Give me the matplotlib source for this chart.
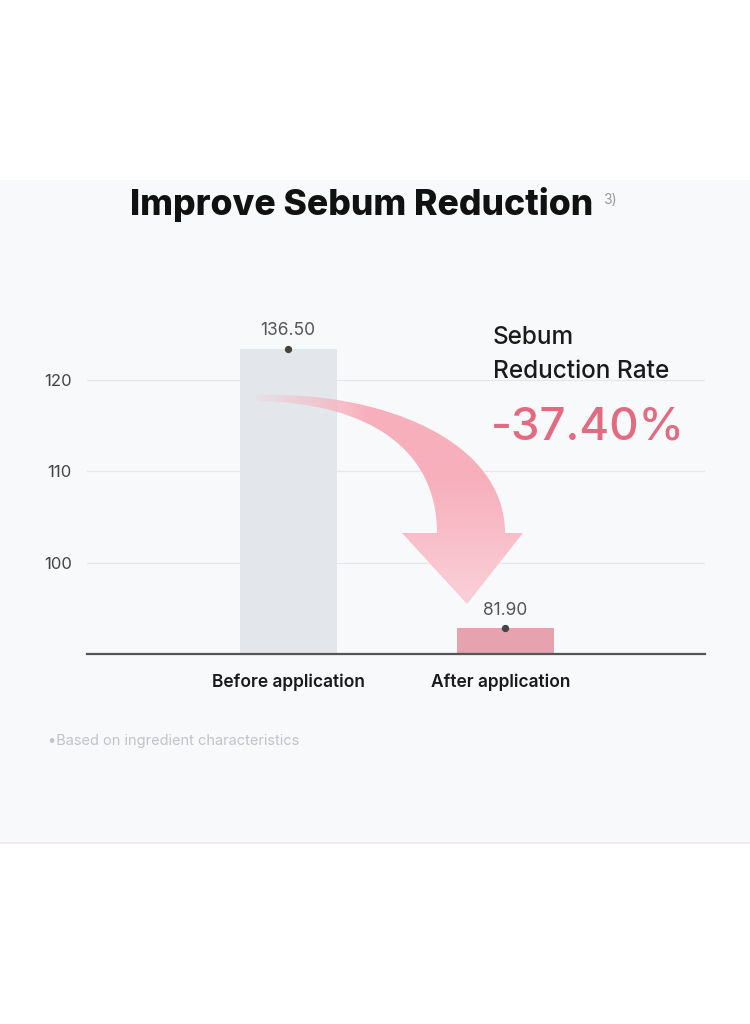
import numpy as np
import matplotlib
matplotlib.use("Agg")
import matplotlib.pyplot as plt
from matplotlib.path import Path
from matplotlib.patches import PathPatch, Rectangle

plt.rcParams['font.family'] = ['Inter', 'DejaVu Sans']

# ---- data ----
categories = ["Before application", "After application"]
bar_heights = [123.4, 92.8]          # drawn heights on the (truncated) axis
value_labels = ["136.50", "81.90"]   # printed values
yticks = [100, 110, 120]
reduction_label = "-37.40%"
title = "Improve Sebum Reduction"
footnote = "•Based on ingredient characteristics"

bar_colors = ["#e3e6ea", "#e6a2af"]

W, H = 750, 1024
fig = plt.figure(figsize=(W / 100, H / 100), dpi=100)
fig.patch.set_facecolor("white")

# background panel
bg = fig.add_axes([0, 0, 1, 1], zorder=0)
bg.set_xlim(0, W); bg.set_ylim(H, 0); bg.axis("off")
bg.add_patch(Rectangle((0, 180), W, 663, facecolor="#f8f9fb", edgecolor="none"))
bg.plot([0, W], [843, 843], color="#efe6e9", lw=1.2)

# main axes
L, R, B, T = 87, 705, 654, 334
ax = fig.add_axes([L / W, 1 - B / H, (R - L) / W, (B - T) / H], zorder=1)
ax.set_facecolor("none")
x = np.arange(len(categories))
ax.set_xlim(-0.926, 1.92)
ax.set_ylim(90, 125)
for t in yticks:
    ax.axhline(t, color="#e6e7eb", lw=0.9, zorder=0)
ax.bar(x, [h - 90 for h in bar_heights], bottom=90, width=0.447,
       color=bar_colors, zorder=2)
ax.scatter(x, bar_heights, s=18, color="#444444", zorder=3)
for xi, h, lab in zip(x, bar_heights, value_labels):
    ax.annotate(lab, (xi, h), xytext=(0, 7), textcoords="offset points",
                ha="center", va="bottom", fontsize=12.5, color="#555555")
for s in ["top", "right", "left"]:
    ax.spines[s].set_visible(False)
ax.spines["bottom"].set_color("#555555")
ax.spines["bottom"].set_linewidth(1.6)
ax.set_yticks(yticks)
ax.set_yticklabels([str(t) for t in yticks], fontsize=12, color="#444444")
ax.tick_params(axis="y", length=0, pad=11)
ax.set_xticks(x)
ax.set_xticklabels([])
ax.tick_params(axis="x", length=0)
label_shift = [0.0, -0.02]
for xi, cat, dx in zip(x, categories, label_shift):
    ax.annotate(cat, (xi + dx, 90), xytext=(0, -20), textcoords="offset points",
                ha="center", va="center", fontsize=12.5, fontweight="semibold",
                color="#1a1a1a", annotation_clip=False)

# overlay for annotations
ov = fig.add_axes([0, 0, 1, 1], zorder=3)
ov.set_xlim(0, W); ov.set_ylim(H, 0); ov.axis("off")
ov.patch.set_alpha(0)

ov.text(362, 204, title, ha="center", va="center", fontsize=25.6,
        fontweight="heavy", color="#111111")
ov.text(603, 200, "3)", ha="left", va="center", fontsize=10, color="#999999")

ov.text(493, 337, "Sebum", ha="left", va="center", fontsize=17.5,
        fontweight="medium", color="#1a1a1a")
ov.text(493, 372, "Reduction Rate", ha="left", va="center", fontsize=17.5,
        fontweight="medium", color="#1a1a1a")
ov.text(491, 427, reduction_label, ha="left", va="center", fontsize=32.8,
        fontweight="medium", color="#e26a81")

ov.text(48, 741, footnote, ha="left", va="center", fontsize=10.5, color="#c2c3c8")

# curved arrow
verts = [
    (258, 395),
    (380, 391), (505, 440), (505, 533),
    (523, 533), (467, 604), (402, 533), (437, 533),
    (437, 450), (370, 403), (258, 401),
    (255, 398), (258, 395),
]
codes = [Path.MOVETO,
         Path.CURVE4, Path.CURVE4, Path.CURVE4,
         Path.LINETO, Path.LINETO, Path.LINETO, Path.LINETO,
         Path.CURVE4, Path.CURVE4, Path.CURVE4,
         Path.LINETO, Path.CLOSEPOLY]
path = Path(verts, codes)
patch = PathPatch(path, facecolor="none", edgecolor="none")
ov.add_patch(patch)

x0, x1, y0, y1 = 250, 530, 385, 610
gx = np.linspace(x0, x1, 300)
gy = np.linspace(y0, y1, 260)
GX, GY = np.meshgrid(gx, gy)
base = np.array([247, 175, 188]) / 255.0
light = np.array([250, 205, 213]) / 255.0
mix = np.clip((GY - 480) / 110, 0, 1)[..., None]
rgb = base * (1 - mix) + light * mix
alpha = np.clip((GX - 258) / 110, 0, 1) * 0.9 + 0.1
img = np.dstack([rgb, alpha])
im = ov.imshow(img, extent=[x0, x1, y1, y0], origin="upper",
               interpolation="bilinear", aspect="auto", zorder=4)
im.set_clip_path(patch)
ov.set_xlim(0, W); ov.set_ylim(H, 0)

fig.savefig("out.png", dpi=100, facecolor="white")
